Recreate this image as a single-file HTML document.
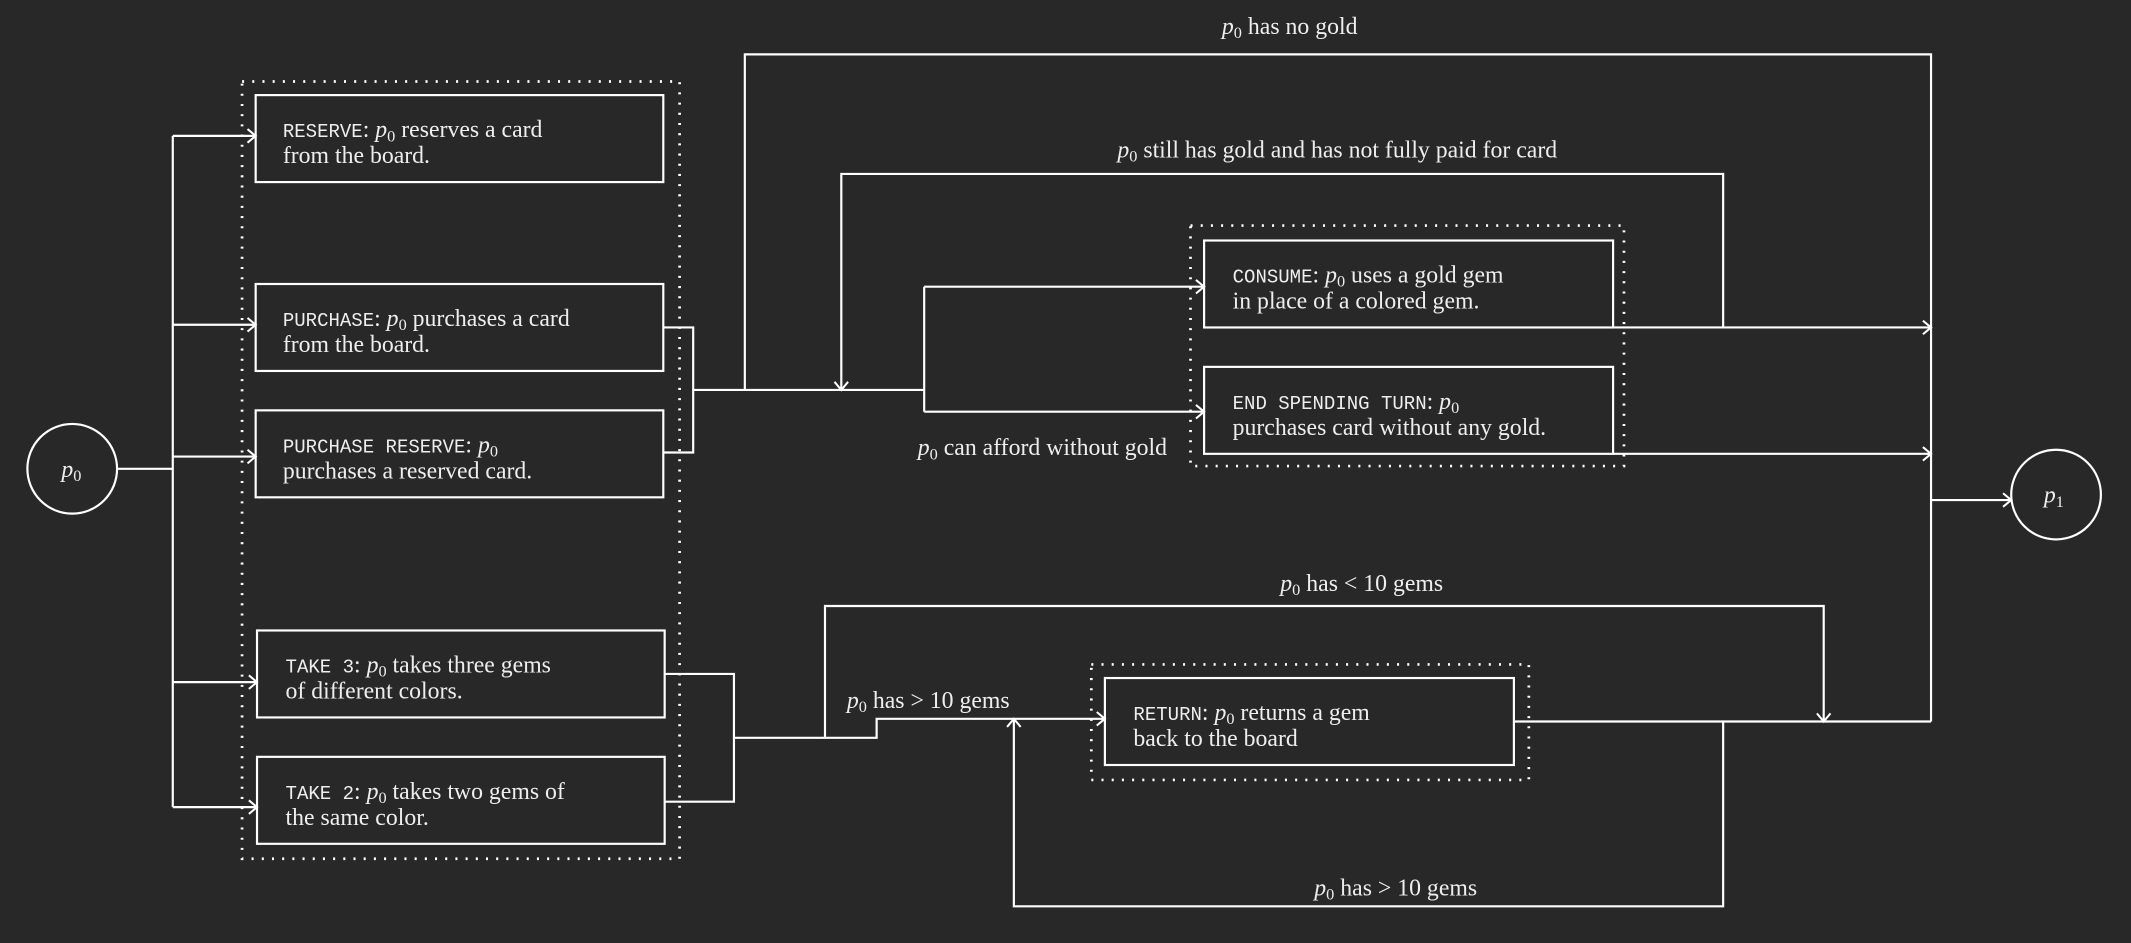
<!DOCTYPE html>
<html><head><meta charset="utf-8">
<style>
html,body{margin:0;padding:0;background:#282828;}
svg{display:block;}
text{font-family:"Liberation Serif",serif;font-size:17.5px;fill:#eeeeee;}
.m{font-family:"Liberation Mono",monospace;font-size:14px;}
.i{font-style:italic;}
.s{font-size:12px;}
</style></head><body>
<svg width="2131" height="943" viewBox="0 0 1568 694" xmlns="http://www.w3.org/2000/svg">
<defs>
<marker id="a" markerUnits="userSpaceOnUse" markerWidth="16" markerHeight="16" refX="8" refY="8" orient="auto">
<path d="M2,3 L8,8 L2,13" fill="none" stroke="#fff" stroke-width="1.5"/>
</marker>
</defs>
<rect width="1568" height="694" fill="#282828"/>
<g fill="none" stroke="#fff" stroke-width="1.6">
<circle cx="53" cy="345" r="33"/>
<circle cx="1513" cy="364" r="33"/>
<g stroke-dasharray="1.5 6" stroke-width="2">
<rect x="178" y="60" width="322" height="572"/>
<rect x="876" y="166" width="319" height="177"/>
<rect x="803" y="489" width="322" height="85"/>
</g>
<rect x="188" y="70" width="300" height="64"/>
<rect x="188" y="209" width="300" height="64"/>
<rect x="188" y="302" width="300" height="64"/>
<rect x="189" y="464" width="300" height="64"/>
<rect x="189" y="557" width="300" height="64"/>
<rect x="886" y="177" width="301" height="64"/>
<rect x="886" y="270" width="301" height="64"/>
<rect x="813" y="499" width="301" height="64"/>
<path d="M86,345 H127"/>
<path d="M127,100 V594"/>
<path d="M127,100 H188" marker-end="url(#a)"/>
<path d="M127,239 H188" marker-end="url(#a)"/>
<path d="M127,336 H188" marker-end="url(#a)"/>
<path d="M127,502 H189" marker-end="url(#a)"/>
<path d="M127,594 H189" marker-end="url(#a)"/>
<path d="M488,241 H510 V333 H488"/>
<path d="M510,287 H680"/>
<path d="M548,287 V40 H1421 V531"/>
<path d="M1268,241 V128 H619 V287" marker-end="url(#a)"/>
<path d="M680,211 V303"/>
<path d="M680,211 H886" marker-end="url(#a)"/>
<path d="M680,303 H886" marker-end="url(#a)"/>
<path d="M1187,241 H1421" marker-end="url(#a)"/>
<path d="M1187,334 H1421" marker-end="url(#a)"/>
<path d="M1421,368 H1480" marker-end="url(#a)"/>
<path d="M489,496 H540 V590 H489"/>
<path d="M540,543 H607 V446 H1342 V531" marker-end="url(#a)"/>
<path d="M607,543 H645 V529 H813" marker-end="url(#a)"/>
<path d="M1114,531 H1421"/>
<path d="M1268,531 V667 H746 V529" marker-end="url(#a)"/>
</g>
<text x="45" y="351"><tspan class="i">p</tspan><tspan class="s" dy="3">0</tspan></text>
<text x="1504" y="370"><tspan class="i">p</tspan><tspan class="s" dy="3">1</tspan></text>
<text x="208" y="101"><tspan class="m">RESERVE</tspan>: <tspan class="i">p</tspan><tspan class="s" dy="3">0</tspan><tspan dy="-3"> reserves a card</tspan></text>
<text x="208" y="120">from the board.</text>
<text x="208" y="240"><tspan class="m">PURCHASE</tspan>: <tspan class="i">p</tspan><tspan class="s" dy="3">0</tspan><tspan dy="-3"> purchases a card</tspan></text>
<text x="208" y="259">from the board.</text>
<text x="208" y="333"><tspan class="m">PURCHASE RESERVE</tspan>: <tspan class="i">p</tspan><tspan class="s" dy="3">0</tspan></text>
<text x="208" y="352">purchases a reserved card.</text>
<text x="210" y="495"><tspan class="m">TAKE 3</tspan>: <tspan class="i">p</tspan><tspan class="s" dy="3">0</tspan><tspan dy="-3"> takes three gems</tspan></text>
<text x="210" y="514">of different colors.</text>
<text x="210" y="588"><tspan class="m">TAKE 2</tspan>: <tspan class="i">p</tspan><tspan class="s" dy="3">0</tspan><tspan dy="-3"> takes two gems of</tspan></text>
<text x="210" y="607">the same color.</text>
<text x="907" y="208"><tspan class="m">CONSUME</tspan>: <tspan class="i">p</tspan><tspan class="s" dy="3">0</tspan><tspan dy="-3"> uses a gold gem</tspan></text>
<text x="907" y="227">in place of a colored gem.</text>
<text x="907" y="301"><tspan class="m">END SPENDING TURN</tspan>: <tspan class="i">p</tspan><tspan class="s" dy="3">0</tspan></text>
<text x="907" y="320">purchases card without any gold.</text>
<text x="834" y="530"><tspan class="m">RETURN</tspan>: <tspan class="i">p</tspan><tspan class="s" dy="3">0</tspan><tspan dy="-3"> returns a gem</tspan></text>
<text x="834" y="549">back to the board</text>
<text x="949" y="25" text-anchor="middle"><tspan class="i">p</tspan><tspan class="s" dy="3">0</tspan><tspan dy="-3"> has no gold</tspan></text>
<text x="984" y="116" text-anchor="middle"><tspan class="i">p</tspan><tspan class="s" dy="3">0</tspan><tspan dy="-3"> still has gold and has not fully paid for card</tspan></text>
<text x="767" y="335" text-anchor="middle"><tspan class="i">p</tspan><tspan class="s" dy="3">0</tspan><tspan dy="-3"> can afford without gold</tspan></text>
<text x="1002" y="435" text-anchor="middle"><tspan class="i">p</tspan><tspan class="s" dy="3">0</tspan><tspan dy="-3"> has &lt; 10 gems</tspan></text>
<text x="683" y="521" text-anchor="middle"><tspan class="i">p</tspan><tspan class="s" dy="3">0</tspan><tspan dy="-3"> has &gt; 10 gems</tspan></text>
<text x="1027" y="659" text-anchor="middle"><tspan class="i">p</tspan><tspan class="s" dy="3">0</tspan><tspan dy="-3"> has &gt; 10 gems</tspan></text>
</svg>
</body></html>
